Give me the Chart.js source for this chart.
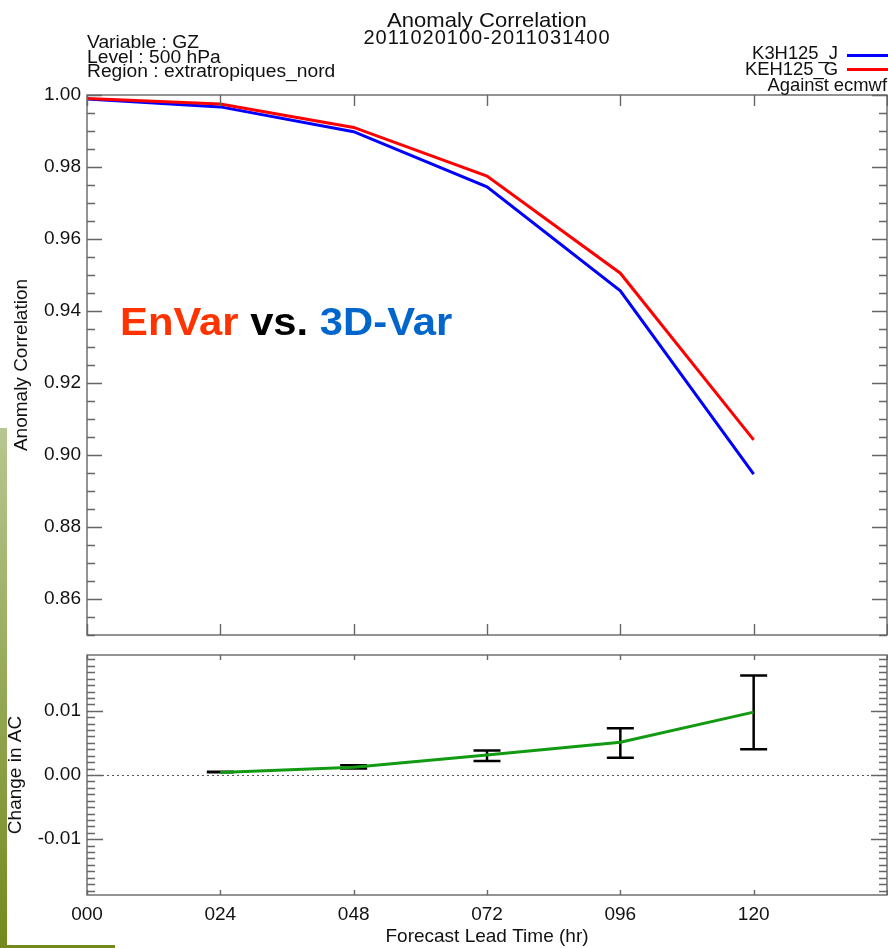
<!DOCTYPE html>
<html>
<head>
<meta charset="utf-8">
<script src="https://cdn.jsdelivr.net/npm/chart.js@4.4.1/dist/chart.umd.min.js"></script>
<style>
  html, body { margin: 0; padding: 0; background: #fff; }
  #page { position: relative; width: 888px; height: 948px; overflow: hidden;
          font-family: "Liberation Sans", Arial, Helvetica, sans-serif; color: #111; }
  canvas { position: absolute; left: 0; }
  #acChart { top: 0; }
  #diffChart { top: 640px; }
  .txt { position: absolute; white-space: nowrap; line-height: 1; transform-origin: 0 0; }
  .info { left: 87px; font-size: 17.5px; transform: scaleX(1.1); }
  .leg { right: 50px; font-size: 18.4px; transform-origin: 100% 0; }
  .legline { position: absolute; left: 847px; width: 41px; height: 3px; }
  #headline { left: 120px; top: 303px; font-size: 38px; font-weight: bold; transform: scaleX(1.1); }
  #sidebar { position: absolute; left: 0; top: 428px; width: 7px; height: 520px;
             background: linear-gradient(#b7c78f, #73891d); }
  #footbar { position: absolute; left: 0; top: 945px; width: 115px; height: 3px; background: #73891d; }
</style>
</head>
<body>
<div id="page">
  <canvas id="acChart" width="888" height="640"></canvas>
  <canvas id="diffChart" width="888" height="308"></canvas>

  <div class="txt" style="left:287px;width:400px;text-align:center;top:9px;font-size:21px;transform-origin:50% 0;transform:scaleX(1.05)">Anomaly Correlation</div>
  <div class="txt" style="left:287px;width:400px;text-align:center;top:27px;font-size:20px;letter-spacing:1px">2011020100-2011031400</div>

  <div class="txt info" style="top:34px">Variable : GZ</div>
  <div class="txt info" style="top:48.5px">Level : 500 hPa</div>
  <div class="txt info" style="top:63px">Region : extratropiques_nord</div>

  <div class="txt leg" style="top:43.5px">K3H125_J</div>
  <div class="txt leg" style="top:59.5px">KEH125_G</div>
  <div class="txt leg" style="top:76px;right:1px">Against ecmwf</div>
  <div class="legline" style="top:54px;background:#0000ff"></div>
  <div class="legline" style="top:68px;background:#ff0000"></div>

  <div class="txt" id="headline"><span style="color:#ff3300">EnVar</span> <span style="color:#000">vs.</span> <span style="color:#0066cc">3D-Var</span></div>

  <div id="sidebar"></div>
  <div id="footbar"></div>
</div>

<script>
// forecast lead times (hours)
var leadHours = [0, 24, 48, 72, 96, 120];
// anomaly correlation of 500 hPa GZ against ECMWF analyses
var acK3H125J = [0.9989, 0.9967, 0.9898, 0.9745, 0.9456, 0.8947];
var acKEH125G = [0.9990, 0.9975, 0.9910, 0.9775, 0.9505, 0.9042];

// KEH125_G minus K3H125_J, with confidence bars
var diffHours = [24, 48, 72, 96, 120];
var diffAC = [0.0004, 0.0012, 0.0031, 0.0051, 0.0098];
var diffLow = [0.00042, 0.0010, 0.0022, 0.0027, 0.0040];
var diffHigh = [0.00052, 0.0015, 0.0038, 0.0073, 0.0155];

// tick labels
var acTicks = [0.86, 0.88, 0.90, 0.92, 0.94, 0.96, 0.98, 1.00];
var diffTicks = [-0.01, 0.00, 0.01];
var leadTicks = [0, 24, 48, 72, 96, 120];

Chart.defaults.font.family = '"Liberation Sans", Arial, Helvetica, sans-serif';
Chart.defaults.color = "#111";

function pts(xs, ys) {
  return xs.map(function (x, i) { return { x: x, y: ys[i] }; });
}

// keep the plot box where the layout padding puts it (no room reserved for label overhang)
function noOverhang(s) {
  s.paddingTop = 0; s.paddingBottom = 0; s.paddingLeft = 0; s.paddingRight = 0;
}

// box around the plot area with inward major/minor ticks on all four sides
var frameTicks = {
  id: "frameTicks",
  afterDraw: function (chart, args, o) {
    var ctx = chart.ctx, a = chart.chartArea, x = chart.scales.x, y = chart.scales.y;
    ctx.save();
    ctx.strokeStyle = "#666";
    ctx.lineWidth = 1.4;
    ctx.strokeRect(a.left, a.top, a.right - a.left, a.bottom - a.top);
    ctx.beginPath();
    for (var h = x.min; h <= x.max + 1e-9; h += o.xStep) {
      var px = Math.round(x.getPixelForValue(h)) + 0.5;
      ctx.moveTo(px, a.top); ctx.lineTo(px, a.top + o.xLen);
      ctx.moveTo(px, a.bottom); ctx.lineTo(px, a.bottom - o.xLen);
    }
    var i0 = Math.ceil(y.min / o.yMinor - 1e-6), i1 = Math.floor(y.max / o.yMinor + 1e-6);
    for (var i = i0; i <= i1; i++) {
      var v = i * o.yMinor;
      var r = v / o.yMajor;
      var len = Math.abs(r - Math.round(r)) < 1e-6 ? o.yMajorLen : o.yMinorLen;
      var py = Math.round(y.getPixelForValue(v)) + 0.5;
      ctx.moveTo(a.left, py); ctx.lineTo(a.left + len, py);
      ctx.moveTo(a.right, py); ctx.lineTo(a.right - len, py);
    }
    ctx.stroke();
    ctx.restore();
  }
};

// dotted zero line and the confidence bars of the difference panel
var diffExtras = {
  id: "diffExtras",
  beforeDatasetsDraw: function (chart) {
    var ctx = chart.ctx, a = chart.chartArea, x = chart.scales.x, y = chart.scales.y;
    ctx.save();
    var y0 = Math.round(y.getPixelForValue(0)) + 0.5;
    ctx.strokeStyle = "#555";
    ctx.lineWidth = 1;
    ctx.setLineDash([2, 3]);
    ctx.beginPath();
    ctx.moveTo(a.left, y0); ctx.lineTo(a.right, y0);
    ctx.stroke();
    ctx.setLineDash([]);
    ctx.strokeStyle = "#000";
    ctx.lineWidth = 2.5;
    ctx.beginPath();
    diffHours.forEach(function (h, i) {
      var px = x.getPixelForValue(h);
      var lo = y.getPixelForValue(diffLow[i]), hi = y.getPixelForValue(diffHigh[i]);
      ctx.moveTo(px, lo); ctx.lineTo(px, hi);
      ctx.moveTo(px - 13.5, lo); ctx.lineTo(px + 13.5, lo);
      ctx.moveTo(px - 13.5, hi); ctx.lineTo(px + 13.5, hi);
    });
    ctx.stroke();
    ctx.restore();
  }
};

var yAxisBase = {
  afterFit: function (s) { s.width = 87; noOverhang(s); },
  grid: { display: false, drawTicks: false },
  border: { display: false },
  ticks: { padding: 6, font: { size: 19 }, callback: function (v) { return Number(v).toFixed(2); } }
};

new Chart(document.getElementById("acChart"), {
  type: "line",
  data: {
    datasets: [
      { label: "KEH125_G", data: pts(leadHours, acKEH125G), borderColor: "#ff0000", borderWidth: 3, pointRadius: 0, order: 0 },
      { label: "K3H125_J", data: pts(leadHours, acK3H125J), borderColor: "#0000ff", borderWidth: 3, pointRadius: 0, order: 1 }
    ]
  },
  options: {
    responsive: false,
    animation: false,
    layout: { padding: { top: 95, right: 1, bottom: 5, left: 0 } },
    plugins: {
      legend: { display: false },
      tooltip: { enabled: false },
      frameTicks: { xStep: 24, xLen: 11, yMinor: 0.005, yMajor: 0.02, yMinorLen: 8, yMajorLen: 15 }
    },
    scales: {
      x: { type: "linear", min: 0, max: 144, display: false, afterFit: noOverhang },
      y: Object.assign({}, yAxisBase, {
        min: 0.85, max: 1.0,
        afterBuildTicks: function (s) { s.ticks = acTicks.map(function (v) { return { value: v }; }); },
        title: { display: true, text: "Anomaly Correlation", font: { size: 19 }, padding: { top: 10, bottom: 0 } }
      })
    }
  },
  plugins: [frameTicks]
});

new Chart(document.getElementById("diffChart"), {
  type: "line",
  data: {
    datasets: [
      { label: "KEH125_G - K3H125_J", data: pts(diffHours, diffAC), borderColor: "#129a12", borderWidth: 3, pointRadius: 0 }
    ]
  },
  options: {
    responsive: false,
    animation: false,
    layout: { padding: { top: 15, right: 1, bottom: 0, left: 0 } },
    plugins: {
      legend: { display: false },
      tooltip: { enabled: false },
      frameTicks: { xStep: 24, xLen: 5, yMinor: 0.001, yMajor: 0.01, yMinorLen: 8, yMajorLen: 16 }
    },
    scales: {
      x: {
        type: "linear", min: 0, max: 144,
        afterFit: function (s) { s.height = 53; noOverhang(s); },
        afterBuildTicks: function (s) { s.ticks = leadTicks.map(function (v) { return { value: v }; }); },
        grid: { display: false, drawTicks: false },
        border: { display: false },
        ticks: { padding: 8, autoSkip: false, maxRotation: 0, font: { size: 19 },
                 callback: function (v) { return String(v).padStart(3, "0"); } },
        title: { display: true, text: "Forecast Lead Time (hr)", font: { size: 19 }, padding: { top: 0, bottom: 0 } }
      },
      y: Object.assign({}, yAxisBase, {
        min: -0.0187, max: 0.0187,
        afterBuildTicks: function (s) { s.ticks = diffTicks.map(function (v) { return { value: v }; }); },
        title: { display: true, text: "Change in AC", font: { size: 19 }, padding: { top: 4, bottom: 0 } }
      })
    }
  },
  plugins: [frameTicks, diffExtras]
});
</script>
</body>
</html>
